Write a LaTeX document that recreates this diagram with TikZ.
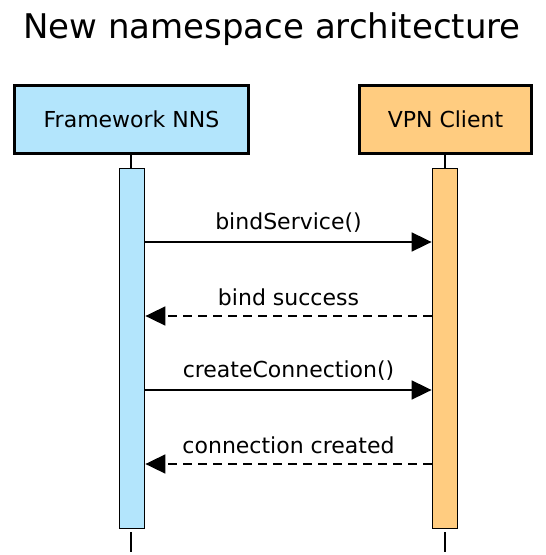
\documentclass[tikz,border=0pt]{standalone}
\usepackage{fontspec}
\setmainfont{DejaVu Sans}
\usetikzlibrary{arrows.meta,calc}
\definecolor{fwblue}{HTML}{B3E5FC}
\definecolor{vpnorange}{HTML}{FFCC80}
\tikzset{
  actor/.style={draw=black, line width=3.2pt, minimum height=68pt, inner sep=0pt, font=\fontsize{22}{26}\selectfont},
  actbar/.style={draw=black, line width=1.8pt, minimum width=25pt, minimum height=360pt, inner sep=0pt},
  msg/.style={line width=1.8pt, -{Triangle[length=20pt,width=19pt]}},
  reply/.style={msg, dash pattern=on 9pt off 6pt},
  msglabel/.style={font=\fontsize{22}{26}\selectfont, inner sep=0pt},
  life/.style={line width=2pt}
}
\begin{document}
\begin{tikzpicture}[x=1pt,y=-1pt]
\useasboundingbox (0,0) rectangle (546,555);
\node[font=\fontsize{34}{40}\selectfont] (title) at (272,29) {New namespace architecture};
\node[actor, fill=fwblue, minimum width=234pt] (fw) at (131.5,119.5) {Framework NNS};
\node[actor, fill=vpnorange, minimum width=172pt] (vpn) at (445.5,119.5) {VPN Client};
\node[actbar, fill=fwblue] (actL) at (132,348.5) {};
\node[actbar, fill=vpnorange] (actR) at (445,348.5) {};
\coordinate (topL) at (131,154);
\coordinate (topR) at (445,154);
\coordinate (endL) at (131,552);
\coordinate (endR) at (445,552);
\draw[life] (topL) -- (topL |- actL.north);
\draw[life] (topR) -- (topR |- actR.north);
\draw[life] ($(endL |- actL.south)+(0,3)$) -- (endL);
\draw[life] ($(endR |- actR.south)+(0,3)$) -- (endR);
\draw[msg] (actL.east |- 0,242) -- node[msglabel, above=9pt] (m1) {bindService()} (actR.west |- 0,242);
\draw[reply] (actR.west |- 0,316) -- node[msglabel, above=9pt] (m2) {bind success} (actL.east |- 0,316);
\draw[msg] (actL.east |- 0,390) -- node[msglabel, above=9pt] (m3) {createConnection()} (actR.west |- 0,390);
\draw[reply] (actR.west |- 0,464) -- node[msglabel, above=9pt] (m4) {connection created} (actL.east |- 0,464);
\end{tikzpicture}
\end{document}
